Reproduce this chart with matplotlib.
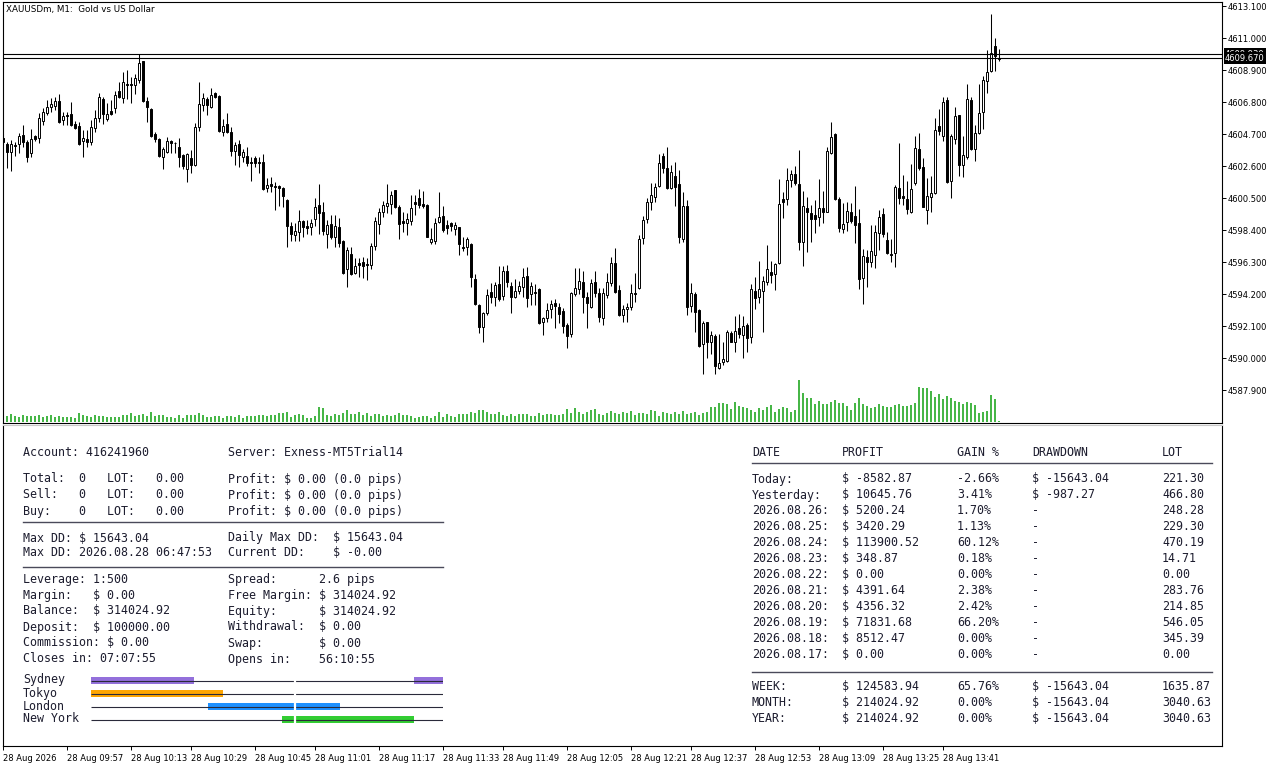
import matplotlib
matplotlib.use('Agg')
import matplotlib.pyplot as plt
import numpy as np
from matplotlib.transforms import blended_transform_factory
from matplotlib.lines import Line2D

W, H = 1280, 768

# ---- chart data (XAUUSDm M1) ----
chart_title = 'XAUUSDm, M1:  Gold vs US Dollar'

opens = [
    4604.44, 4604.04, 4603.52, 4603.97, 4604.04, 4604.63, 4604.17, 4603.45, 4604.57, 4604.44,
    4605.55, 4606.08, 4606.47, 4606.54, 4606.86, 4605.62, 4605.94, 4606.01, 4605.36, 4605.22,
    4604.24, 4604.37, 4604.17, 4605.09, 4605.75, 4606.99, 4605.68, 4606.21, 4606.40, 4607.52,
    4607.06, 4607.98, 4607.98, 4607.91, 4608.24, 4609.49, 4606.86, 4606.34, 4604.70, 4604.37,
    4603.19, 4603.52, 4604.24, 4604.14, 4603.84, 4603.32, 4602.40, 4603.12, 4602.66, 4605.16,
    4606.60, 4606.99, 4606.47, 4607.39, 4607.19, 4604.83, 4605.36, 4604.83, 4603.58, 4604.04,
    4603.19, 4603.26, 4602.86, 4603.12, 4602.86, 4602.86, 4601.15, 4601.42, 4601.29, 4601.29,
    4601.15, 4600.37, 4598.66, 4598.07, 4598.27, 4598.99, 4598.66, 4598.59, 4599.12, 4600.04,
    4599.58, 4598.13, 4598.79, 4597.94, 4598.59, 4597.67, 4595.84, 4596.82, 4595.58, 4596.23,
    4596.30, 4596.17, 4596.10, 4597.35, 4598.79, 4599.58, 4599.97, 4600.10, 4601.02, 4599.91,
    4598.99, 4598.86, 4598.99, 4600.24, 4600.50, 4600.10, 4600.04, 4597.61, 4597.67, 4598.92,
    4599.32, 4598.73, 4598.86, 4598.46, 4598.59, 4597.28, 4597.28, 4597.48, 4595.18, 4593.48,
    4592.03, 4592.95, 4594.33, 4594.00, 4594.85, 4594.07, 4595.71, 4594.72, 4594.00, 4594.39,
    4594.66, 4595.38, 4594.20, 4594.33, 4594.52, 4592.36, 4592.62, 4593.21, 4593.61, 4593.34,
    4593.08, 4592.16, 4591.57, 4594.20, 4594.52, 4594.98, 4594.00, 4593.34, 4594.98, 4594.26,
    4592.62, 4594.13, 4594.92, 4596.23, 4594.46, 4592.82, 4593.21, 4593.34, 4594.26, 4594.59,
    4597.87, 4599.12, 4600.24, 4600.56, 4601.29, 4603.26, 4602.46, 4601.15, 4601.94, 4601.42,
    4597.81, 4599.97, 4593.41, 4594.20, 4593.15, 4590.91, 4592.36, 4591.05, 4591.44, 4589.34,
    4589.74, 4589.80, 4591.64, 4591.05, 4591.97, 4591.51, 4592.16, 4591.38, 4594.39, 4594.00,
    4594.39, 4594.98, 4595.64, 4595.51, 4596.23, 4600.43, 4600.43, 4601.68, 4602.07, 4601.42,
    4597.61, 4599.84, 4599.51, 4599.38, 4599.25, 4599.84, 4599.58, 4603.45, 4604.70, 4600.43,
    4598.46, 4598.92, 4599.58, 4599.32, 4598.86, 4595.25, 4596.63, 4596.30, 4596.76, 4598.20,
    4599.45, 4597.74, 4596.82, 4596.89, 4601.15, 4600.63, 4600.43, 4599.58, 4601.48, 4603.71,
    4602.53, 4599.71, 4600.56, 4600.82, 4605.22, 4604.57, 4606.93, 4601.61, 4604.37, 4605.94,
    4602.66, 4603.19, 4606.93, 4603.71, 4604.76, 4606.14, 4608.17, 4608.83, 4610.47, 4609.62,
]
highs = [
    4604.70, 4604.17, 4604.30, 4604.17, 4604.76, 4605.29, 4604.30, 4605.03, 4604.63, 4606.08,
    4606.40, 4606.93, 4607.06, 4607.13, 4607.32, 4606.14, 4606.14, 4606.80, 4605.55, 4605.49,
    4604.96, 4604.96, 4605.62, 4606.27, 4607.39, 4607.12, 4606.73, 4606.93, 4607.52, 4608.11,
    4608.77, 4608.90, 4608.44, 4608.63, 4609.95, 4609.49, 4607.12, 4606.40, 4604.83, 4604.44,
    4603.84, 4604.50, 4604.30, 4604.17, 4604.44, 4603.39, 4603.45, 4603.65, 4605.42, 4608.11,
    4607.39, 4607.12, 4607.72, 4607.45, 4607.26, 4605.68, 4606.08, 4605.16, 4604.17, 4604.30,
    4603.71, 4603.84, 4603.19, 4603.26, 4603.19, 4603.39, 4601.81, 4601.88, 4601.55, 4601.35,
    4601.22, 4600.43, 4598.92, 4598.86, 4599.71, 4599.05, 4599.05, 4599.12, 4600.50, 4601.42,
    4600.24, 4599.05, 4599.38, 4599.38, 4599.18, 4597.74, 4597.28, 4597.28, 4596.56, 4596.56,
    4596.63, 4596.56, 4597.54, 4599.25, 4599.84, 4600.30, 4601.42, 4600.96, 4601.02, 4600.04,
    4599.58, 4599.51, 4600.69, 4600.69, 4601.09, 4600.96, 4600.10, 4598.53, 4599.18, 4600.89,
    4599.97, 4599.05, 4598.92, 4598.92, 4598.59, 4597.94, 4597.94, 4597.54, 4595.51, 4593.54,
    4593.02, 4594.52, 4594.92, 4594.98, 4596.04, 4596.04, 4596.10, 4594.98, 4595.18, 4595.05,
    4595.90, 4595.97, 4594.98, 4594.85, 4594.59, 4592.69, 4593.61, 4593.80, 4593.87, 4593.61,
    4593.28, 4592.30, 4594.33, 4595.90, 4595.90, 4595.71, 4594.33, 4595.18, 4595.71, 4594.59,
    4594.59, 4595.58, 4596.63, 4597.22, 4594.79, 4593.48, 4593.61, 4594.85, 4595.58, 4598.07,
    4599.32, 4600.50, 4601.48, 4601.48, 4603.39, 4603.45, 4603.84, 4602.66, 4602.86, 4602.33,
    4600.89, 4600.37, 4594.92, 4594.33, 4593.21, 4592.43, 4592.36, 4591.77, 4591.57, 4591.57,
    4591.05, 4591.83, 4591.77, 4592.75, 4592.89, 4592.75, 4592.30, 4594.85, 4595.31, 4596.36,
    4595.38, 4597.41, 4596.36, 4596.23, 4601.74, 4600.89, 4602.46, 4602.33, 4602.60, 4603.65,
    4600.96, 4600.56, 4600.04, 4600.37, 4601.74, 4600.96, 4603.84, 4605.49, 4604.76, 4600.56,
    4600.17, 4600.24, 4600.17, 4601.29, 4599.77, 4597.15, 4597.08, 4598.73, 4598.73, 4599.71,
    4599.84, 4598.27, 4597.81, 4601.35, 4604.11, 4602.01, 4601.61, 4602.73, 4604.57, 4604.76,
    4603.12, 4601.81, 4601.94, 4605.75, 4606.34, 4607.12, 4607.12, 4604.70, 4606.47, 4605.94,
    4604.57, 4607.98, 4607.12, 4605.29, 4607.98, 4608.50, 4610.21, 4612.57, 4611.00, 4610.28,
]
lows = [
    4603.97, 4602.46, 4602.27, 4603.26, 4603.45, 4603.84, 4602.86, 4603.19, 4604.24, 4604.11,
    4605.29, 4605.94, 4606.14, 4606.27, 4605.42, 4605.29, 4605.29, 4605.22, 4605.03, 4603.97,
    4603.19, 4603.84, 4603.97, 4604.83, 4605.49, 4605.36, 4605.55, 4605.94, 4606.08, 4607.06,
    4606.73, 4606.99, 4606.73, 4607.32, 4608.04, 4606.80, 4605.49, 4604.50, 4604.17, 4603.19,
    4602.40, 4603.45, 4603.45, 4603.45, 4602.53, 4602.40, 4601.55, 4602.14, 4602.60, 4604.89,
    4606.21, 4605.94, 4606.40, 4607.06, 4604.83, 4604.57, 4604.76, 4603.26, 4602.66, 4602.53,
    4602.86, 4602.60, 4601.61, 4602.53, 4602.14, 4601.02, 4600.89, 4600.89, 4599.71, 4599.97,
    4599.91, 4597.28, 4597.67, 4597.67, 4597.67, 4597.94, 4598.13, 4598.07, 4598.66, 4598.13,
    4598.07, 4597.22, 4597.81, 4597.28, 4597.28, 4595.51, 4594.66, 4595.45, 4595.51, 4595.31,
    4595.25, 4595.12, 4595.84, 4597.08, 4598.13, 4599.25, 4599.51, 4599.45, 4599.84, 4597.81,
    4598.27, 4598.07, 4598.73, 4599.38, 4599.84, 4599.84, 4597.94, 4597.48, 4597.48, 4598.86,
    4598.27, 4598.13, 4598.33, 4598.07, 4596.76, 4597.02, 4596.76, 4594.66, 4593.48, 4591.64,
    4591.05, 4592.82, 4593.61, 4593.41, 4593.74, 4593.80, 4594.66, 4592.95, 4593.93, 4594.20,
    4594.00, 4593.34, 4593.48, 4593.48, 4592.23, 4591.51, 4592.36, 4592.62, 4591.97, 4592.30,
    4591.64, 4590.65, 4591.38, 4594.07, 4594.20, 4592.95, 4591.97, 4593.28, 4594.00, 4592.36,
    4592.16, 4593.93, 4594.72, 4594.26, 4592.75, 4592.36, 4592.36, 4593.15, 4593.67, 4594.52,
    4597.48, 4598.86, 4599.71, 4600.24, 4601.22, 4602.14, 4601.09, 4601.09, 4599.97, 4597.54,
    4597.61, 4592.82, 4593.02, 4591.70, 4590.72, 4588.95, 4590.00, 4590.26, 4588.95, 4589.28,
    4589.54, 4589.74, 4591.05, 4590.39, 4591.31, 4590.00, 4590.39, 4590.98, 4593.21, 4593.61,
    4591.70, 4594.79, 4594.92, 4594.46, 4596.17, 4599.18, 4600.04, 4601.22, 4601.35, 4597.08,
    4596.04, 4596.95, 4597.61, 4598.20, 4598.66, 4598.86, 4599.58, 4603.39, 4600.37, 4598.27,
    4598.20, 4598.33, 4598.86, 4597.54, 4594.52, 4593.54, 4594.66, 4595.97, 4595.90, 4597.08,
    4597.94, 4596.82, 4596.30, 4595.97, 4600.10, 4600.04, 4599.45, 4599.51, 4601.35, 4602.33,
    4599.91, 4598.79, 4599.58, 4600.76, 4604.63, 4604.24, 4601.48, 4600.50, 4604.04, 4601.94,
    4601.88, 4603.06, 4603.65, 4602.93, 4604.70, 4605.03, 4607.39, 4608.77, 4608.83, 4609.49,
]
closes = [
    4604.17, 4603.52, 4604.04, 4603.91, 4604.57, 4604.17, 4603.19, 4604.37, 4604.37, 4605.75,
    4606.14, 4606.47, 4606.67, 4606.86, 4605.49, 4605.88, 4605.88, 4605.29, 4605.09, 4604.04,
    4604.44, 4604.17, 4605.16, 4605.75, 4607.12, 4606.01, 4606.01, 4606.01, 4607.26, 4607.12,
    4608.11, 4607.91, 4607.91, 4608.37, 4609.36, 4606.86, 4606.47, 4604.57, 4604.37, 4603.26,
    4603.71, 4604.24, 4604.11, 4604.08, 4603.19, 4602.60, 4603.39, 4602.66, 4605.16, 4606.67,
    4607.06, 4606.60, 4607.26, 4607.12, 4604.89, 4605.22, 4604.83, 4603.58, 4603.97, 4603.32,
    4603.52, 4602.79, 4602.79, 4602.79, 4602.79, 4601.09, 4601.35, 4601.29, 4601.22, 4601.15,
    4600.63, 4598.66, 4598.13, 4598.33, 4598.99, 4598.59, 4598.53, 4598.86, 4599.91, 4599.51,
    4598.33, 4598.73, 4597.94, 4598.66, 4597.54, 4595.58, 4597.08, 4595.51, 4596.04, 4596.10,
    4596.04, 4596.10, 4597.35, 4598.99, 4599.58, 4600.04, 4600.17, 4600.69, 4599.91, 4598.79,
    4598.86, 4599.12, 4599.84, 4600.10, 4600.04, 4599.97, 4597.94, 4597.81, 4598.86, 4599.25,
    4598.40, 4598.53, 4598.66, 4598.73, 4597.48, 4597.22, 4597.81, 4595.31, 4593.54, 4592.03,
    4592.95, 4594.13, 4594.00, 4594.79, 4593.87, 4595.71, 4594.98, 4594.00, 4594.39, 4594.72,
    4595.31, 4593.93, 4594.72, 4594.26, 4592.30, 4592.62, 4593.15, 4593.54, 4593.41, 4592.89,
    4592.10, 4591.44, 4594.26, 4594.59, 4595.05, 4594.00, 4593.61, 4594.92, 4594.26, 4592.69,
    4594.26, 4594.98, 4596.23, 4594.33, 4592.82, 4593.21, 4593.34, 4594.26, 4594.20, 4597.81,
    4599.05, 4600.24, 4600.69, 4601.22, 4602.79, 4602.46, 4601.15, 4602.20, 4601.22, 4597.94,
    4599.97, 4593.34, 4594.26, 4593.02, 4590.78, 4592.30, 4591.05, 4591.51, 4589.47, 4589.67,
    4589.93, 4591.70, 4591.05, 4591.77, 4591.57, 4592.10, 4591.31, 4594.52, 4593.93, 4594.52,
    4595.05, 4595.84, 4595.45, 4596.17, 4600.10, 4600.24, 4601.68, 4602.07, 4601.48, 4597.61,
    4599.97, 4599.58, 4599.12, 4599.12, 4599.84, 4599.58, 4603.58, 4604.50, 4600.43, 4598.53,
    4598.79, 4599.64, 4598.99, 4598.73, 4595.18, 4596.69, 4596.30, 4597.02, 4598.27, 4599.25,
    4598.13, 4596.89, 4596.76, 4601.22, 4600.50, 4600.50, 4599.77, 4601.09, 4603.78, 4602.46,
    4599.91, 4600.63, 4600.82, 4604.96, 4604.89, 4606.80, 4601.55, 4604.57, 4605.88, 4602.66,
    4603.32, 4606.99, 4603.71, 4604.76, 4606.08, 4608.24, 4608.77, 4610.01, 4609.82, 4609.67,
]
tick_volume = [
    18,
    18, 24, 18, 16, 21, 18, 18, 18, 21, 16, 18, 21, 16, 18, 16, 16, 16, 13, 28, 21,
    18, 16, 21, 18, 18, 16, 16, 16, 16, 21, 21, 28, 18, 21, 24, 18, 31, 18, 21, 21,
    16, 16, 13, 21, 13, 21, 21, 21, 28, 21, 16, 16, 18, 18, 13, 18, 18, 16, 21, 13,
    18, 18, 18, 21, 21, 18, 21, 21, 26, 26, 31, 16, 21, 24, 21, 13, 13, 18, 46, 41,
    21, 18, 24, 21, 28, 37, 24, 24, 31, 21, 28, 18, 24, 24, 18, 21, 18, 21, 28, 21, 21,
    18, 13, 16, 18, 18, 13, 18, 31, 16, 24, 18, 16, 24, 24, 24, 31, 28, 37, 37, 31, 24,
    24, 31,
    22, 19, 25, 17, 25, 23, 25, 17, 19, 28, 22, 25, 23, 21, 21, 23, 40, 28, 43, 31, 25,
    31, 37, 40, 25, 22, 28, 34, 28, 25, 31, 28, 34, 22, 28, 28, 25, 37, 34, 19, 31, 28, 25,
    31, 25, 34, 25, 28, 30, 22, 28, 31, 44, 46, 58, 58, 55, 40, 61, 49, 46, 43, 37, 31,
    43, 37, 46, 52, 31, 40, 46, 43, 31, 37,
    127, 88, 73, 73, 55, 64, 55, 55, 61, 67, 58, 58, 49, 37, 58, 73, 55, 49, 43, 46,
    55, 49, 46, 46, 52, 55, 49, 49, 52, 58, 106, 103, 103, 94, 76, 85, 70, 79, 73, 64,
    61, 55, 61, 58, 52, 28, 31, 34, 82, 70, 4,
]
bid_price = 4609.67
ask_price = 4609.93
price_ticks = [4613.1, 4611.0, 4608.9, 4606.8, 4604.7, 4602.6, 4600.5,
               4598.4, 4596.3, 4594.2, 4592.1, 4590.0, 4587.9]
time_tick_bars = [0, 16, 32, 47, 63, 78, 94, 110, 125, 141, 157, 172, 188, 204, 220, 235]
time_tick_labels = ['28 Aug 2026', '28 Aug 09:57', '28 Aug 10:13', '28 Aug 10:29',
                    '28 Aug 10:45', '28 Aug 11:01', '28 Aug 11:17', '28 Aug 11:33',
                    '28 Aug 11:49', '28 Aug 12:05', '28 Aug 12:21', '28 Aug 12:37',
                    '28 Aug 12:53', '28 Aug 13:09', '28 Aug 13:25', '28 Aug 13:41']

# ---- account panel data ----
account = '416241960'
server = 'Exness-MT5Trial14'
pos_names = ['Total:', 'Sell:', 'Buy:']
pos_counts = [0, 0, 0]
pos_lots = [0.00, 0.00, 0.00]
pos_profit = [0.00, 0.00, 0.00]
pos_pips = [0.0, 0.0, 0.0]
max_dd = 15643.04
max_dd_time = '2026.08.28 06:47:53'
daily_max_dd = 15643.04
current_dd = '-0.00'
leverage = '1:500'
spread_pips = 2.6
margin = 0.00
free_margin = 314024.92
balance = 314024.92
equity = 314024.92
deposit = 100000.00
withdrawal = 0.00
commission = 0.00
swap = 0.00
closes_in = '07:07:55'
opens_in = '56:10:55'

sessions = ['Sydney', 'Tokyo', 'London', 'New York']
session_hours = [[(0, 7), (22, 2)], [(0, 9)], [(8, 9)], [(13, 9)]]
session_colors = ['#9370db', '#ffa500', '#1e90ff', '#32cd32']
now_hour = 13.92

hist_dates = ['Today:', 'Yesterday:', '2026.08.26:', '2026.08.25:', '2026.08.24:',
              '2026.08.23:', '2026.08.22:', '2026.08.21:', '2026.08.20:', '2026.08.19:',
              '2026.08.18:', '2026.08.17:']
hist_profit = [-8582.87, 10645.76, 5200.24, 3420.29, 113900.52, 348.87, 0.00,
               4391.64, 4356.32, 71831.68, 8512.47, 0.00]
hist_gain = [-2.66, 3.41, 1.70, 1.13, 60.12, 0.18, 0.00, 2.38, 2.42, 66.20, 0.00, 0.00]
hist_dd = [-15643.04, -987.27, None, None, None, None, None, None, None, None, None, None]
hist_lot = [221.30, 466.80, 248.28, 229.30, 470.19, 14.71, 0.00, 283.76, 214.85,
            546.05, 345.39, 0.00]
sum_names = ['WEEK:', 'MONTH:', 'YEAR:']
sum_profit = [124583.94, 214024.92, 214024.92]
sum_gain = [65.76, 0.00, 0.00]
sum_dd = [-15643.04, -15643.04, -15643.04]
sum_lot = [1635.87, 3040.63, 3040.63]

TXT = '#1c1c2e'
MONO = 'DejaVu Sans Mono'

fig = plt.figure(figsize=(12.8, 7.68), dpi=100, facecolor='white')


def px_axes(x0, y0, x1, y1):
    return fig.add_axes([x0 / W, 1 - y1 / H, (x1 - x0) / W, (y1 - y0) / H])


def ptext(x, y, s, **kw):
    fig.text(x / W, 1 - y / H, s, family=MONO, size=8.4, color=TXT,
             va='center', ha='left', **kw)


def hline(x0, x1, y, color='#4a4a5a'):
    fig.add_artist(Line2D([x0 / W, x1 / W], [1 - y / H, 1 - y / H],
                          transform=fig.transFigure, color=color, lw=1.0))


# ---- main price window ----
ax = px_axes(3, 2, 1222, 423)
n = len(closes)
x = np.arange(n)
o = np.array(opens)
c = np.array(closes)
up = c >= o

vax = ax.twinx()
vax.vlines(x, 0, tick_volume, color='#0fa00f', lw=1.1)
vax.set_ylim(-3, 1260)
vax.set_yticks([])
for s in vax.spines.values():
    s.set_visible(False)

ax.vlines(x, lows, highs, color='black', lw=0.75, zorder=2)
body = np.maximum(np.abs(c - o), 0.012)
ax.bar(x, body, bottom=np.minimum(o, c), width=0.58,
       color=np.where(up, 'white', 'black'), edgecolor='black', linewidth=0.7, zorder=3)

ax.axhline(ask_price, color='black', lw=0.8, zorder=4)
ax.axhline(bid_price, color='black', lw=0.8, zorder=4)

ax.set_xlim(0.075, 304.8)
ax.set_ylim(4585.735, 4613.363)
ax.set_zorder(vax.get_zorder() + 1)
ax.patch.set_visible(False)
ax.yaxis.tick_right()
ax.set_yticks(price_ticks)
ax.set_yticklabels(['%.3f' % p for p in price_ticks])
ax.tick_params(axis='y', direction='out', length=3, width=0.7, pad=1,
               labelsize=6, colors='black')
ax.tick_params(axis='x', bottom=False, labelbottom=False)
for s in ax.spines.values():
    s.set_linewidth(0.8)
    s.set_color('black')

ax.text(0.0025, 0.983, chart_title, transform=ax.transAxes, size=6.3,
        ha='left', va='center', color='black')

# ask label sits just under the bid label, as in the terminal
tr = blended_transform_factory(ax.transAxes, ax.transData)
for price in (ask_price, bid_price):
    ax.text(1.0025, price, '%.3f' % price, transform=tr, size=6, color='white',
            ha='left', va='center', clip_on=False, zorder=10,
            bbox=dict(boxstyle='square,pad=0.18', fc='black', ec='none'))

# ---- lower window with the info panel ----
sub = px_axes(3, 425, 1222, 746)
sub.set_xlim(ax.get_xlim())
sub.set_ylim(0, 1)
sub.set_yticks([])
sub.set_xticks(time_tick_bars)
sub.set_xticklabels(time_tick_labels)
for lbl in sub.get_xticklabels():
    lbl.set_ha('left')
sub.tick_params(axis='x', direction='out', length=3, width=0.7, pad=3,
                labelsize=6, colors='black')
for name, s in sub.spines.items():
    s.set_linewidth(0.8)
    s.set_color('#c8c8c8' if name == 'top' else 'black')

# left block
ptext(23, 452, 'Account: ' + account)
ptext(228, 452, 'Server: ' + server)
for k in range(3):
    y = 479 + 16 * k
    ptext(23, y, '%-8s%d   LOT:   %.2f' % (pos_names[k], pos_counts[k], pos_lots[k]))
    ptext(228, y, 'Profit: $ %.2f (%.1f pips)' % (pos_profit[k], pos_pips[k]))
hline(23, 443, 521.5)
ptext(23, 538, 'Max DD: $ %.2f' % max_dd)
ptext(228, 538, 'Daily Max DD:  $ %.2f' % daily_max_dd)
ptext(23, 553, 'Max DD: ' + max_dd_time)
ptext(228, 553, 'Current DD:    $ ' + current_dd)
hline(23, 443, 566.5)
left_rows = [
    ('Leverage: ' + leverage, 'Spread:      %.1f pips' % spread_pips),
    ('Margin:   $ %.2f' % margin, 'Free Margin: $ %.2f' % free_margin),
    ('Balance:  $ %.2f' % balance, 'Equity:      $ %.2f' % equity),
    ('Deposit:  $ %.2f' % deposit, 'Withdrawal:  $ %.2f' % withdrawal),
    ('Commission: $ %.2f' % commission, 'Swap:        $ %.2f' % swap),
    ('Closes in: ' + closes_in, 'Opens in:    ' + opens_in),
]
for k, (a, b) in enumerate(left_rows):
    ptext(23, 579 + 16 * k, a)
    ptext(228, 579 + 16 * k, b)

# trading sessions timeline
sax = px_axes(91, 674, 443, 726)
sax.set_xlim(0, 24)
sax.set_ylim(3.5, -0.5)
sax.axis('off')
for k, name in enumerate(sessions):
    ptext(23, 680 + 13 * k, name)
    sax.hlines(k, 0, 24, color='#2a2a3a', lw=0.8)
    sax.broken_barh(session_hours[k], (k - 0.25, 0.5), facecolor=session_colors[k])
sax.axvline(now_hour, color='white', lw=1.6)

# right block: history table
cols = [752, 842, 957, 1032, 1162]
for cx, head in zip(cols, ['DATE', 'PROFIT', 'GAIN %', 'DRAWDOWN', 'LOT']):
    ptext(cx, 452, head)
hline(752, 1212, 462.5)
for k in range(len(hist_dates)):
    y = 479 + 16 * k
    ptext(cols[0], y, hist_dates[k])
    ptext(cols[1], y, '$ %.2f' % hist_profit[k])
    ptext(cols[2], y, '%.2f%%' % hist_gain[k])
    ptext(cols[3], y, '-' if hist_dd[k] is None else '$ %.2f' % hist_dd[k])
    ptext(cols[4], y, '%.2f' % hist_lot[k])
hline(752, 1212, 671.5)
for k in range(len(sum_names)):
    y = 687 + 16 * k
    ptext(cols[0], y, sum_names[k])
    ptext(cols[1], y, '$ %.2f' % sum_profit[k])
    ptext(cols[2], y, '%.2f%%' % sum_gain[k])
    ptext(cols[3], y, '$ %.2f' % sum_dd[k])
    ptext(cols[4], y, '%.2f' % sum_lot[k])

fig.savefig('out.png', dpi=100, facecolor='white')
